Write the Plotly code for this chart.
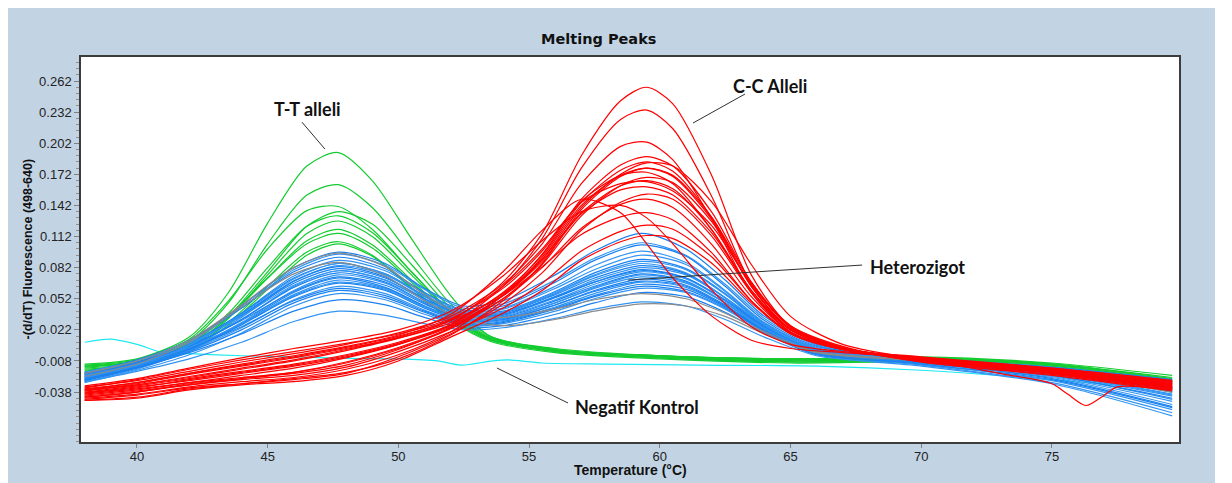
import plotly.graph_objects as go

# ---------------- data ----------------
# temperature grids (deg C)
red_t = [38, 40, 42, 44, 46, 48, 50, 52, 54, 55.5, 57, 58.5, 59.5, 60.5, 62, 63.5, 65, 67, 70, 75, 79.6]
green_t = [38, 40, 42, 43.5, 45, 46.5, 47.7, 49, 50.5, 52, 53.5, 56, 60, 65, 70, 75, 79.6]
blue_t = [38, 40, 42, 44, 46, 47.7, 49.5, 51, 52.5, 54, 56, 57.5, 59.3, 61, 62.5, 64, 66, 70, 75, 79.6]
cyan_t = [38, 39, 40, 41, 42, 44, 46, 48, 50, 51.5, 52.4, 53.6, 54.2, 55.5, 58, 61.5, 66, 70, 75, 79.6]
red_dip_t = [38, 40, 42, 44, 46, 48, 50, 52, 54, 55.5, 57, 58.5, 59.5, 60.5, 62, 63.5, 65, 67, 70, 73, 75,
             75.6, 76.3, 77.0, 77.5, 79.6]

# C-C allele curves  -(d/dT) fluorescence
red_curves = [
    [-0.036, -0.031, -0.024, -0.016, -0.008, 0.002, 0.014, 0.031, 0.068, 0.115, 0.190, 0.243, 0.256, 0.240, 0.170, 0.075, 0.025, 0.004, -0.006, -0.016, -0.030],
    [-0.041, -0.036, -0.029, -0.022, -0.015, -0.005, 0.008, 0.027, 0.064, 0.110, 0.178, 0.225, 0.234, 0.216, 0.150, 0.066, 0.022, 0.004, -0.007, -0.018, -0.032],
    [-0.033, -0.027, -0.018, -0.009, -0.001, 0.008, 0.019, 0.035, 0.066, 0.105, 0.163, 0.199, 0.203, 0.186, 0.128, 0.058, 0.020, 0.003, -0.006, -0.017, -0.028],
    [-0.044, -0.040, -0.033, -0.028, -0.024, -0.016, -0.002, 0.020, 0.056, 0.095, 0.148, 0.181, 0.189, 0.180, 0.135, 0.068, 0.024, 0.005, -0.008, -0.020, -0.034],
    [-0.038, -0.032, -0.025, -0.018, -0.011, -0.002, 0.010, 0.027, 0.058, 0.094, 0.145, 0.176, 0.184, 0.175, 0.130, 0.064, 0.022, 0.004, -0.005, -0.018, -0.031],
    [-0.046, -0.043, -0.035, -0.030, -0.025, -0.019, -0.006, 0.017, 0.050, 0.086, 0.138, 0.170, 0.178, 0.171, 0.130, 0.068, 0.026, 0.006, -0.009, -0.021, -0.036],
    [-0.034, -0.026, -0.016, -0.007, 0.001, 0.009, 0.018, 0.033, 0.062, 0.098, 0.146, 0.171, 0.174, 0.163, 0.118, 0.058, 0.020, 0.003, -0.004, -0.015, -0.027],
    [-0.040, -0.035, -0.029, -0.024, -0.019, -0.010, 0.004, 0.023, 0.052, 0.085, 0.132, 0.161, 0.169, 0.164, 0.126, 0.066, 0.025, 0.005, -0.007, -0.019, -0.033],
    [-0.037, -0.030, -0.021, -0.013, -0.005, 0.004, 0.014, 0.029, 0.057, 0.090, 0.135, 0.161, 0.166, 0.158, 0.118, 0.060, 0.022, 0.004, -0.006, -0.017, -0.030],
    [-0.045, -0.041, -0.034, -0.030, -0.026, -0.020, -0.004, 0.018, 0.047, 0.077, 0.118, 0.145, 0.153, 0.148, 0.112, 0.058, 0.022, 0.004, -0.008, -0.020, -0.035],
    [-0.039, -0.033, -0.027, -0.020, -0.013, -0.004, 0.008, 0.025, 0.052, 0.082, 0.120, 0.143, 0.148, 0.140, 0.104, 0.054, 0.020, 0.003, -0.006, -0.018, -0.032],
    [-0.032, -0.025, -0.015, -0.005, 0.004, 0.012, 0.022, 0.040, 0.074, 0.108, 0.136, 0.142, 0.130, 0.105, 0.060, 0.025, 0.008, 0.001, -0.005, -0.015, -0.027],
    [-0.042, -0.037, -0.031, -0.026, -0.022, -0.014, 0.001, 0.020, 0.043, 0.067, 0.098, 0.117, 0.123, 0.119, 0.092, 0.050, 0.019, 0.003, -0.007, -0.019, -0.034],
    [-0.046, -0.044, -0.036, -0.031, -0.028, -0.022, -0.008, 0.015, 0.038, 0.060, 0.089, 0.107, 0.113, 0.110, 0.086, 0.048, 0.019, 0.004, -0.009, -0.022, -0.037],
    [-0.035, -0.029, -0.020, -0.011, -0.003, 0.006, 0.017, 0.037, 0.078, 0.118, 0.148, 0.135, 0.105, 0.072, 0.035, 0.012, 0.004, 0.000, -0.005, -0.016, -0.028],
    [-0.039, -0.034, -0.026, -0.019, -0.012, -0.003, 0.009, 0.026, 0.055, 0.090, 0.140, 0.172, 0.183, 0.180, 0.145, 0.085, 0.035, 0.008, -0.006, -0.018, -0.031],
    [-0.037, -0.031, -0.023, -0.015, -0.007, 0.003, 0.015, 0.032, 0.064, 0.100, 0.145, 0.163, 0.165, 0.156, 0.122, 0.066, 0.026, 0.005, -0.006, -0.017, -0.030],
    [-0.043, -0.038, -0.031, -0.025, -0.019, -0.009, 0.005, 0.024, 0.055, 0.092, 0.142, 0.171, 0.178, 0.170, 0.128, 0.064, 0.023, 0.004, -0.008, -0.019, -0.034],
    [-0.036, -0.029, -0.020, -0.012, -0.004, 0.005, 0.016, 0.031, 0.055, 0.083, 0.114, 0.131, 0.135, 0.128, 0.096, 0.050, 0.018, 0.003, -0.005, -0.016, -0.029],
]
red_dip = [-0.043, -0.038, -0.030, -0.025, -0.020, -0.012, 0.003, 0.024, 0.055, 0.088, 0.134, 0.157, 0.160, 0.152,
           0.115, 0.060, 0.022, 0.004, -0.006, -0.020, -0.030, -0.040, -0.051, -0.041, -0.033, -0.036]

# T-T allele curves
green_curves = [
    [-0.011, -0.006, 0.015, 0.058, 0.125, 0.180, 0.193, 0.166, 0.110, 0.055, 0.016, 0.004, -0.003, -0.006, -0.005, -0.011, -0.026],
    [-0.013, -0.008, 0.011, 0.048, 0.105, 0.152, 0.162, 0.140, 0.093, 0.047, 0.016, 0.003, -0.004, -0.008, -0.006, -0.013, -0.030],
    [-0.012, -0.007, 0.013, 0.050, 0.100, 0.137, 0.141, 0.119, 0.078, 0.040, 0.014, 0.002, -0.003, -0.006, -0.004, -0.010, -0.022],
    [-0.016, -0.011, 0.006, 0.035, 0.078, 0.122, 0.136, 0.124, 0.085, 0.043, 0.015, 0.003, -0.004, -0.008, -0.007, -0.012, -0.028],
    [-0.014, -0.009, 0.008, 0.038, 0.082, 0.122, 0.132, 0.116, 0.078, 0.039, 0.014, 0.002, -0.003, -0.007, -0.005, -0.011, -0.024],
    [-0.017, -0.012, 0.005, 0.033, 0.075, 0.115, 0.127, 0.112, 0.075, 0.038, 0.013, 0.001, -0.005, -0.009, -0.008, -0.014, -0.033],
    [-0.015, -0.010, 0.007, 0.034, 0.072, 0.108, 0.119, 0.104, 0.070, 0.035, 0.013, 0.002, -0.004, -0.007, -0.006, -0.012, -0.027],
    [-0.013, -0.009, 0.009, 0.036, 0.072, 0.105, 0.115, 0.101, 0.068, 0.034, 0.013, 0.002, -0.003, -0.006, -0.005, -0.011, -0.025],
    [-0.018, -0.013, 0.004, 0.029, 0.064, 0.097, 0.107, 0.094, 0.063, 0.032, 0.012, 0.001, -0.005, -0.009, -0.008, -0.015, -0.035],
    [-0.019, -0.014, 0.003, 0.027, 0.061, 0.094, 0.105, 0.093, 0.062, 0.031, 0.011, 0.000, -0.006, -0.010, -0.009, -0.016, -0.038],
]

# heterozygote curves
blue_curves = [
    [-0.020, -0.008, 0.012, 0.045, 0.082, 0.097, 0.086, 0.062, 0.045, 0.050, 0.075, 0.098, 0.115, 0.100, 0.070, 0.035, 0.008, -0.006, -0.016, -0.030],
    [-0.022, -0.010, 0.010, 0.043, 0.080, 0.095, 0.084, 0.061, 0.043, 0.047, 0.070, 0.091, 0.106, 0.094, 0.066, 0.033, 0.007, -0.007, -0.018, -0.034],
    [-0.019, -0.007, 0.012, 0.043, 0.078, 0.092, 0.081, 0.058, 0.041, 0.045, 0.068, 0.089, 0.104, 0.093, 0.064, 0.031, 0.006, -0.005, -0.015, -0.028],
    [-0.024, -0.012, 0.007, 0.038, 0.074, 0.089, 0.079, 0.057, 0.040, 0.043, 0.064, 0.084, 0.098, 0.087, 0.060, 0.029, 0.005, -0.008, -0.020, -0.040],
    [-0.021, -0.009, 0.009, 0.038, 0.072, 0.086, 0.076, 0.055, 0.038, 0.040, 0.059, 0.077, 0.090, 0.081, 0.057, 0.028, 0.004, -0.006, -0.017, -0.033],
    [-0.026, -0.014, 0.005, 0.034, 0.069, 0.084, 0.075, 0.054, 0.037, 0.039, 0.057, 0.074, 0.086, 0.077, 0.053, 0.025, 0.002, -0.009, -0.022, -0.045],
    [-0.020, -0.009, 0.009, 0.036, 0.067, 0.081, 0.072, 0.052, 0.036, 0.038, 0.056, 0.072, 0.084, 0.076, 0.053, 0.026, 0.003, -0.005, -0.014, -0.026],
    [-0.025, -0.013, 0.005, 0.032, 0.064, 0.079, 0.070, 0.051, 0.035, 0.037, 0.054, 0.070, 0.082, 0.075, 0.053, 0.027, 0.004, -0.008, -0.021, -0.042],
    [-0.023, -0.011, 0.006, 0.032, 0.063, 0.077, 0.068, 0.049, 0.034, 0.036, 0.053, 0.068, 0.080, 0.072, 0.050, 0.024, 0.002, -0.007, -0.018, -0.036],
    [-0.027, -0.015, 0.003, 0.029, 0.060, 0.075, 0.067, 0.048, 0.033, 0.035, 0.051, 0.066, 0.078, 0.071, 0.050, 0.025, 0.003, -0.010, -0.024, -0.050],
    [-0.021, -0.010, 0.007, 0.031, 0.059, 0.073, 0.065, 0.047, 0.032, 0.034, 0.050, 0.064, 0.076, 0.069, 0.048, 0.023, 0.001, -0.006, -0.016, -0.031],
    [-0.028, -0.016, 0.002, 0.027, 0.056, 0.070, 0.062, 0.045, 0.031, 0.033, 0.048, 0.062, 0.073, 0.067, 0.048, 0.024, 0.002, -0.011, -0.027, -0.055],
    [-0.024, -0.012, 0.004, 0.027, 0.054, 0.067, 0.060, 0.043, 0.030, 0.032, 0.046, 0.060, 0.071, 0.065, 0.046, 0.022, 0.000, -0.008, -0.019, -0.038],
    [-0.026, -0.014, 0.002, 0.024, 0.051, 0.064, 0.057, 0.041, 0.029, 0.031, 0.044, 0.057, 0.068, 0.063, 0.045, 0.022, 0.000, -0.009, -0.023, -0.047],
    [-0.022, -0.011, 0.004, 0.025, 0.050, 0.062, 0.055, 0.040, 0.028, 0.030, 0.043, 0.055, 0.066, 0.061, 0.044, 0.021, -0.001, -0.007, -0.017, -0.033],
    [-0.029, -0.017, -0.002, 0.019, 0.045, 0.057, 0.051, 0.037, 0.026, 0.028, 0.040, 0.052, 0.062, 0.058, 0.042, 0.020, -0.002, -0.012, -0.029, -0.058],
    [-0.025, -0.014, 0.000, 0.018, 0.040, 0.051, 0.046, 0.034, 0.024, 0.026, 0.037, 0.048, 0.058, 0.054, 0.039, 0.019, -0.002, -0.010, -0.025, -0.052],
    [-0.028, -0.018, -0.006, 0.010, 0.030, 0.040, 0.036, 0.028, 0.022, 0.024, 0.033, 0.042, 0.049, 0.045, 0.032, 0.015, -0.003, -0.013, -0.030, -0.061],
    [-0.023, -0.011, 0.007, 0.036, 0.069, 0.083, 0.073, 0.052, 0.036, 0.037, 0.054, 0.068, 0.079, 0.072, 0.051, 0.025, 0.003, -0.007, -0.019, -0.037],
    [-0.019, -0.008, 0.009, 0.035, 0.065, 0.079, 0.070, 0.051, 0.036, 0.039, 0.058, 0.075, 0.088, 0.080, 0.056, 0.027, 0.003, -0.006, -0.015, -0.029],
    [-0.026, -0.014, 0.003, 0.028, 0.058, 0.072, 0.063, 0.045, 0.031, 0.032, 0.046, 0.059, 0.069, 0.064, 0.045, 0.022, 0.001, -0.009, -0.022, -0.044],
    [-0.022, -0.011, 0.005, 0.028, 0.055, 0.068, 0.061, 0.044, 0.031, 0.033, 0.048, 0.063, 0.075, 0.068, 0.048, 0.023, 0.001, -0.007, -0.018, -0.035],
    [-0.027, -0.015, 0.001, 0.022, 0.048, 0.060, 0.053, 0.039, 0.027, 0.029, 0.042, 0.054, 0.064, 0.059, 0.043, 0.021, -0.001, -0.011, -0.026, -0.053],
    [-0.024, -0.012, 0.007, 0.037, 0.071, 0.086, 0.076, 0.055, 0.039, 0.042, 0.062, 0.080, 0.094, 0.085, 0.059, 0.028, 0.004, -0.008, -0.020, -0.041],
]

# grey curves (share the blue grid)
gray_curves = [
    [-0.020, -0.008, 0.012, 0.046, 0.082, 0.096, 0.083, 0.056, 0.036, 0.034, 0.042, 0.051, 0.057, 0.052, 0.038, 0.020, 0.001, -0.007, -0.018, -0.034],
    [-0.023, -0.011, 0.010, 0.044, 0.076, 0.087, 0.074, 0.050, 0.032, 0.026, 0.032, 0.040, 0.047, 0.045, 0.035, 0.018, 0.000, -0.008, -0.020, -0.038],
]

# negative control
cyan_curve = [0.010, 0.013, 0.008, 0.000, -0.001, -0.003, -0.004, -0.0055, -0.006, -0.008, -0.012, -0.008, -0.007, -0.010, -0.011, -0.012, -0.013, -0.017, -0.026, -0.036]

y_tick_vals = [-0.038, -0.008, 0.022, 0.052, 0.082, 0.112, 0.142, 0.172, 0.202, 0.232, 0.262]
y_tick_text = ["-0.038", "-0.008", "0.022", "0.052", "0.082", "0.112", "0.142", "0.172", "0.202", "0.232", "0.262"]
x_tick_vals = [40, 45, 50, 55, 60, 65, 70, 75]

# ---------------- styling ----------------
BG = "#c2d4e4"
RED = "#ff0000"
GREEN = "#14cc30"
BLUES = ["#1a82f0", "#3294f2"]
GRAY = "#8a8a8a"
CYAN = "#1ee8f2"
LW = 1.2

fig = go.Figure()


def add(x, y, color):
    fig.add_trace(go.Scatter(x=x, y=y, mode="lines", hoverinfo="skip", showlegend=False,
                             line=dict(color=color, width=LW, shape="spline", smoothing=0.8)))


add(cyan_t, cyan_curve, CYAN)
for c in green_curves:
    add(green_t, c, GREEN)
for i, c in enumerate(blue_curves):
    add(blue_t, c, BLUES[i % 2])
for c in gray_curves:
    add(blue_t, c, GRAY)
for c in red_curves:
    add(red_t, c, RED)
add(red_dip_t, red_dip, RED)

# page body has an 8px margin, so the figure is laid out 8px in from the window corner
OFF = 8
W, H = 1215 - OFF, 483 - OFF
PL, PR, PT, PB = 81 - OFF, 1179 - OFF, 57 - OFF, 442 - OFF
pw, ph = PR - PL, PB - PT


def px(xp):  # window pixel -> paper x
    return (xp - OFF - PL) / pw


def py(yp):  # window pixel -> paper y
    return (PB - (yp - OFF)) / ph


# pointer lines for the labels
shapes = []
pointers = [
    ((46.31, 0.2224), (47.19, 0.1964)),
    ((63.26, 0.2495), (61.27, 0.2215)),
    ((67.74, 0.0845), (58.78, 0.0700)),
    ((56.49, -0.0486), (53.77, -0.0148)),
]
for (x0, y0), (x1, y1) in pointers:
    shapes.append(dict(type="line", xref="x", yref="y", x0=x0, y0=y0, x1=x1, y1=y1,
                       line=dict(color="#303030", width=1)))

lab_font = dict(family="Lato, 'Open Sans', sans-serif", size=18, color="#111111")
C = dict(xanchor="center", yanchor="middle", showarrow=False)
annotations = [
    dict(x=46.54, y=0.2350, xref="x", yref="y", text="<b>T-T alleli</b>", font=lab_font, **C),
    dict(x=64.22, y=0.2572, xref="x", yref="y", text="<b>C-C Alleli</b>", font=lab_font, **C),
    dict(x=67.96, y=0.0826, xref="x", yref="y", text="<b>Heterozigot</b>", showarrow=False,
         xanchor="left", yanchor="middle", font=lab_font),
    dict(x=56.68, y=-0.0525, xref="x", yref="y", text="<b>Negatif Kontrol</b>", showarrow=False,
         xanchor="left", yanchor="middle", font=lab_font),
    # titles
    dict(x=px(598), y=py(39), xref="paper", yref="paper", text="<b>Melting Peaks</b>",
         font=dict(family="DejaVu Sans", size=14.5, color="#111111"), **C),
    dict(x=0.5, y=py(470), xref="paper", yref="paper", text="<b>Temperature (°C)</b>",
         font=dict(family="Liberation Sans, Arial", size=14, color="#111111"), **C),
    dict(x=px(27), y=0.5, xref="paper", yref="paper", text="<b>-(d/dT) Fluorescence (498-640)</b>",
         textangle=-90, font=dict(family="Liberation Sans, Arial", size=12.5, color="#111111"), **C),
]

tick_font = dict(family="Liberation Sans, Arial", size=13, color="#222222")

fig.update_layout(
    width=W, height=H,
    margin=dict(l=PL, r=W - PR, t=PT, b=H - PB, pad=0),
    paper_bgcolor=BG, plot_bgcolor="white",
    shapes=shapes, annotations=annotations,
    xaxis=dict(range=[37.86, 79.86], tickvals=x_tick_vals, ticks="outside", ticklen=4,
               tickcolor="#808080", showgrid=False, zeroline=False, showline=True, mirror=True,
               linecolor="#3c3c3c", linewidth=1.5, tickfont=tick_font, ticklabelstandoff=-2),
    yaxis=dict(range=[-0.0862, 0.2852], tickvals=y_tick_vals, ticktext=y_tick_text, ticks="outside",
               ticklen=5, tickcolor="#808080", showgrid=False, zeroline=False, showline=True,
               mirror=True, linecolor="#3c3c3c", linewidth=1.5, tickfont=tick_font,
               minor=dict(tickmode="linear", tick0=0.262, dtick=0.006, ticks="outside", ticklen=3,
                          tickcolor="#909090", showgrid=False)),
)

fig.write_html("out.html")
